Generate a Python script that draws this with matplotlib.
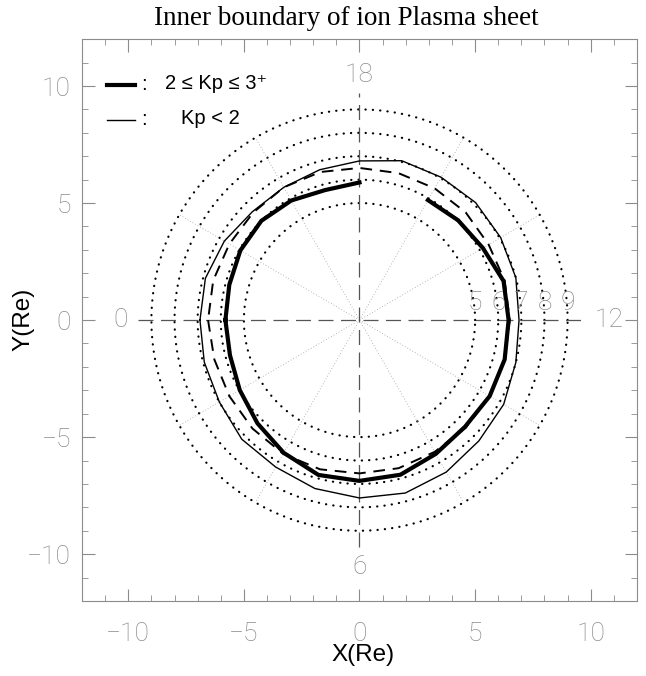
import numpy as np
import matplotlib.pyplot as plt
from matplotlib.ticker import MultipleLocator

# magnetic local time (hours) and boundary radius (Re)
mlt = np.arange(24)
r_quiet = [6.9, 6.95, 7.0, 7.2, 7.25, 7.45, 7.6, 7.65, 7.5, 7.3, 7.2, 7.0,
           6.9, 7.0, 7.05, 7.1, 7.05, 7.05, 6.8, 6.65, 6.55, 6.55, 6.75, 6.9]
r_active = [5.8, 5.8, 5.98, 6.24, 6.55, 6.85, 6.87, 6.84, 6.6, 6.45, 6.5, 6.5,
            6.45, 6.45, 6.16, 6.03, 5.92, np.nan, 5.88, 5.75, 5.9, 6.0, 5.95, 5.83]
r_dash = [6.55, 6.5, 6.5, 6.55, 6.6, 6.6, 6.55, 6.55, 6.5, 6.5, 6.5, 6.5,
          6.5, 6.5, 6.45, 6.5, 6.5, 6.5, 6.5, 6.55, 6.55, 6.5, 6.5, 6.55]
ring_r = [5, 6, 7, 8, 9]
spoke_mlt = [2, 4, 8, 10, 14, 16, 20, 22]
mlt_labels = {'0': (-10.35, 0), '6': (0, -10.55), '12': (10.8, 0), '18': (0, 10.45)}

gray = '#8c8c8c'
sans = ['Liberation Sans', 'DejaVu Sans']
thin = ['Roboto', 'DejaVu Sans']


def to_xy(hours, r):
    h = np.append(hours, 24)
    r = np.append(r, r[0])
    ang = np.deg2rad((h - 12) * 15)
    return r * np.cos(ang), r * np.sin(ang)


fig = plt.figure(figsize=(6.46, 6.76), dpi=100)
ax = fig.add_axes([0.127, 0.111, 0.859, 0.831])
ax.set_xlim(-12, 12)
ax.set_ylim(-12, 12)

# reference rings and spokes
t = np.linspace(0, 2 * np.pi, 400)
for r in ring_r:
    ax.plot(r * np.cos(t), r * np.sin(t), color='k', lw=1.6,
            ls=(0, (0.1, 3.2)), dash_capstyle='round')
    ax.text(r, 0.75, str(r), color=gray, fontsize=19, ha='center', va='center',
            family=thin, fontweight='light')
for h in spoke_mlt:
    a = np.deg2rad((h - 12) * 15)
    ax.plot([0, 9 * np.cos(a)], [0, 9 * np.sin(a)], color='#a0a0a0', lw=0.6,
            ls=(0, (1, 2.5)))
ax.plot([-9.6, 9.9], [0, 0], color='#555555', lw=0.9, ls=(0, (12, 6)))
ax.plot([0, 0], [-9.7, 9.7], color='#555555', lw=0.9, ls=(0, (12, 6)))
for s, (x, y) in mlt_labels.items():
    ax.text(x, y, s, color=gray, fontsize=19, ha='center', va='center',
            family=thin, fontweight='light')

# boundaries
x, y = to_xy(mlt, r_quiet)
ax.plot(x, y, color='k', lw=1.0)
x, y = to_xy(mlt, r_dash)
ax.plot(x, y, color='k', lw=1.4, ls=(0, (6, 4)))
x, y = to_xy(mlt, r_active)
ax.plot(x, y, color='k', lw=3.0)

# legend
ax.plot([-10.9, -9.7], [10.05, 10.05], color='k', lw=3.0)
ax.plot([-10.9, -9.7], [8.55, 8.55], color='k', lw=1.0)
ax.text(-9.45, 10.05, ':', fontsize=14.5, va='center', family=sans)
ax.text(-9.45, 8.55, ':', fontsize=14.5, va='center', family=sans)
ax.text(-8.4, 10.1, '2 \u2264 Kp \u2264 3\u207a', fontsize=14.5, va='center', family=sans)
ax.text(-7.7, 8.6, 'Kp < 2', fontsize=14.5, va='center', family=sans)

# axes style
ax.xaxis.set_major_locator(MultipleLocator(5))
ax.yaxis.set_major_locator(MultipleLocator(5))
ax.xaxis.set_minor_locator(MultipleLocator(1))
ax.yaxis.set_minor_locator(MultipleLocator(1))
ax.tick_params(which='both', direction='in', top=True, right=True, color=gray,
               labelcolor=gray, labelsize=19)
ax.tick_params(which='major', length=9)
ax.tick_params(which='minor', length=4.5)
ax.tick_params(axis='x', which='major', pad=15)
ax.tick_params(axis='y', which='major', pad=8)
for lab in ax.get_xticklabels() + ax.get_yticklabels():
    lab.set_family(thin)
    lab.set_fontweight('light')
for sp in ax.spines.values():
    sp.set_color(gray)

ax.set_xlabel('X(Re)', fontsize=17.5, family=sans)
ax.set_ylabel('Y(Re)', fontsize=17.5, family=sans)
ax.xaxis.set_label_coords(0.507, -0.076)
ax.yaxis.set_label_coords(-0.086, 0.502)
fig.text(0.536, 0.973, 'Inner boundary of ion Plasma sheet', fontsize=19.5,
         family=['Liberation Serif', 'DejaVu Serif'], ha='center', va='center')

fig.savefig('out.png', dpi=100)
